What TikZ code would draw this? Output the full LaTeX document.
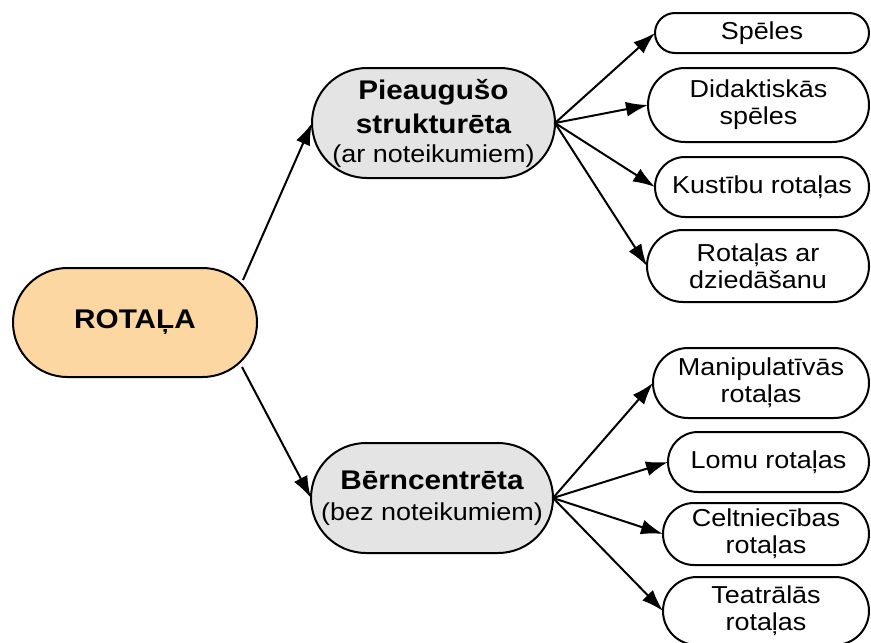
\documentclass[tikz,border=0pt]{standalone}
\usepackage{fontspec}
\setmainfont{Liberation Sans}[FakeStretch=1.1]
\usetikzlibrary{arrows.meta,calc}
\definecolor{orangefill}{RGB}{252,215,162}
\definecolor{grayfill}{RGB}{228,228,228}
\newcommand{\regtext}[1]{{\mdseries\fontsize{24.5}{29}\selectfont #1}}
\begin{document}
\begin{tikzpicture}[x=1pt,y=-1pt,
  pill/.style n args={3}{draw=black,line width=2pt,inner sep=0pt,outer sep=0pt,align=center,
    minimum width=#1,minimum height=#2,rounded corners=#3,
    font=\fontsize{24.5}{27}\selectfont},
  arr/.style={-{Latex[length=22pt,width=15pt]},line width=2pt}]
\useasboundingbox (0,0) rectangle (871,643);
% main nodes
\node[pill={244}{109}{54.5},fill=orangefill,font=\bfseries\fontsize{27}{31}\selectfont] (rot) at (135,322.5) {ROTAĻA};
\node[pill={243}{110}{55},fill=grayfill,font=\bfseries\fontsize{27}{29}\selectfont] (pie) at (433.5,123) {Pieaugušo\\[5pt]strukturēta\\\regtext{(ar noteikumiem)}};
\node[pill={242}{110}{55},fill=grayfill,font=\bfseries\fontsize{27}{31}\selectfont] (ber) at (432,498) {Bērncentrēta\\\regtext{(bez noteikumiem)}};
% upper leaves
\node[pill={214}{40}{20}] (s1) at (762,33) {Spēles};
\node[pill={221}{74}{37}] (s2) at (758.5,105) {Didaktiskās\\spēles};
\node[pill={214}{60}{30}] (s3) at (762,187) {Kustību rotaļas};
\node[pill={222}{72}{36}] (s4) at (758,266) {Rotaļas ar\\dziedāšanu};
% lower leaves
\node[pill={216}{70}{35}] (b1) at (761,383) {Manipulatīvās\\rotaļas};
\node[pill={201}{60}{30}] (b2) at (768.5,462) {Lomu rotaļas};
\node[pill={206}{62}{31}] (b3) at (766,534) {Celtniecības\\rotaļas};
\node[pill={206}{68}{34}] (b4) at (766,611) {Teatrālās\\rotaļas};
% connectors
\coordinate (r1) at ($(rot.center)+(108,-42.5)$);
\coordinate (r2) at ($(rot.center)+(107,44.5)$);
\draw[arr] (r1) -- (pie.west);
\draw[arr] (r2) -- (ber.west);
\foreach \t in {s1,s2,s3,s4} \draw[arr] (pie.east) -- (\t.west);
\foreach \t in {b1,b2,b3,b4} \draw[arr] (ber.east) -- (\t.west);
\end{tikzpicture}
\end{document}
